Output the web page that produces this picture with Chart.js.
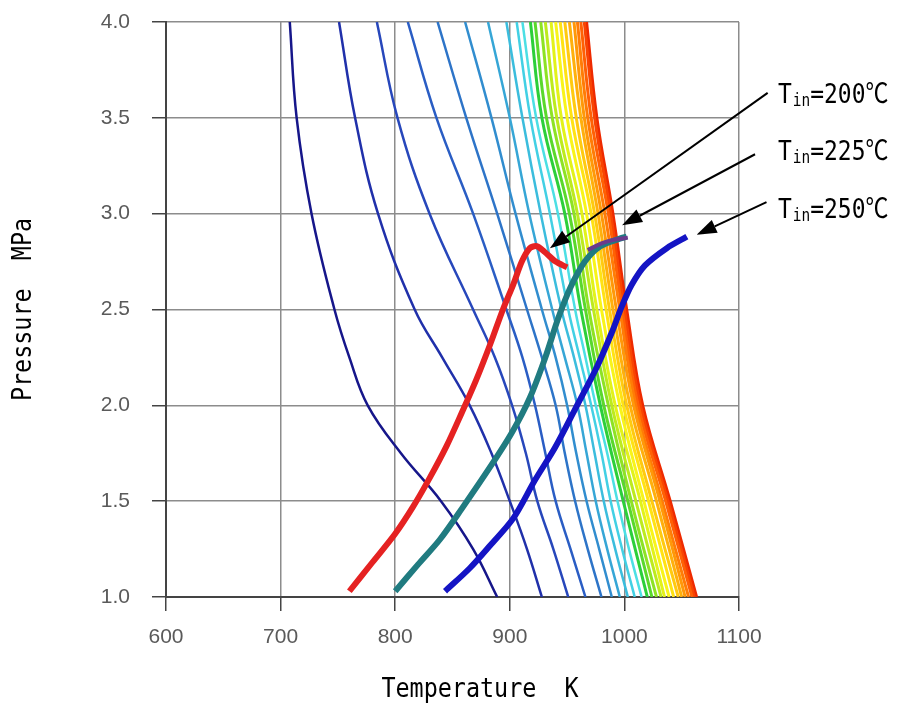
<!DOCTYPE html>
<html>
<head>
<meta charset="utf-8">
<script src="https://cdn.jsdelivr.net/npm/chart.js@4.4.1/dist/chart.umd.min.js"></script>
<style>
  html, body { margin: 0; padding: 0; background: #fff; }
</style>
</head>
<body>
<canvas id="chart" width="898" height="710"></canvas>
<script>
// pressure levels (MPa) at which the blue-cyan contours are sampled
const contourP = [4.0, 3.5, 3.0, 2.5, 2.25, 2.0, 1.75, 1.5, 1.25, 1.0];

// contour temperatures (K) at contourP, blue -> cyan
const contourTemps = [
    [708, 714, 727, 747, 760, 776, 805, 840, 868, 889],
    [751, 765, 785, 817, 841, 865, 884, 900, 915, 928],
    [784, 802, 830, 868, 887, 902, 914, 924, 938, 951],
    [811, 836, 868, 897, 911, 922, 931, 940, 953, 966],
    [837, 862, 889, 915, 928, 940, 948, 957, 968, 980],
    [861, 884, 905, 928, 940, 950, 958, 967, 978, 989],
    [881, 900, 917, 937, 948, 959, 967, 975, 985, 996],
    [897, 911, 927, 945, 956, 966, 974, 982, 992, 1003],
    [906, 918, 935, 951, 961, 971, 980, 988, 998, 1009],
    [911, 923, 942, 957, 966, 975, 985, 994, 1004, 1015]
];
const contourColors = ['#16168a', '#2030aa', '#2747bb', '#2a5dc4', '#2d74c8',
                       '#318dcf', '#36a6d6', '#3bbddd', '#42d0e4', '#4cdfe4'];

// pressure levels for the dense band
const bandP = [4.0, 3.5, 3.0, 2.5, 2.0, 1.5, 1.0];

// dense band of contours, green -> red
const bandTemps = [
    [918, 928, 948, 962, 979,  999, 1020],
    [922, 932, 952, 966, 982, 1003, 1024],
    [927, 937, 956, 969, 986, 1006, 1028],
    [931, 941, 959, 973, 989, 1010, 1032],
    [936, 945, 963, 976, 992, 1014, 1035],
    [940, 950, 967, 980, 996, 1017, 1039],
    [944, 954, 971, 984, 999, 1021, 1043],
    [948, 958, 974, 987, 1002, 1024, 1047],
    [952, 962, 977, 990, 1005, 1028, 1050],
    [956, 965, 980, 993, 1008, 1031, 1053],
    [959, 968, 983, 996, 1010, 1033, 1056],
    [962, 971, 986, 998, 1012, 1036, 1059],
    [965, 974, 988, 1000, 1014, 1038, 1061],
    [967, 976, 990, 1002, 1016, 1040, 1063]
];
const bandColors = ['#2ccf3a', '#5ad82c', '#8ee224', '#bdea1e', '#e2f21a', '#f8f41a', '#ffe214',
                    '#ffca10', '#ffb00c', '#ff9808', '#ff7c06', '#ff6004', '#f84402', '#ee2a00'];

// operating lines for each inlet temperature
const run200T = [760, 780, 800, 815.5, 830, 845, 858, 870.5, 883, 894, 903, 910.5, 917.5, 923.5, 930.5, 940, 950];
const run200P = [1.03, 1.18, 1.33, 1.47, 1.62, 1.79, 1.96, 2.13, 2.32, 2.50, 2.63, 2.75, 2.82, 2.83, 2.80, 2.75, 2.72];
const run225T = [800, 820, 839, 858, 883, 902, 917.5, 931, 942, 952.5, 965.5, 979, 996, 1002];
const run225P = [1.03, 1.17, 1.30, 1.46, 1.68, 1.86, 2.04, 2.25, 2.45, 2.61, 2.75, 2.83, 2.87, 2.88];
const tail225T = [968, 980, 992, 1003];
const tail225P = [2.81, 2.845, 2.865, 2.875];
const run250T = [843.5, 865, 883, 903, 922, 939.5, 957, 976, 989, 998, 1006.5, 1018, 1037, 1054.5];
const run250P = [1.03, 1.15, 1.27, 1.41, 1.61, 1.78, 1.98, 2.20, 2.38, 2.52, 2.63, 2.73, 2.82, 2.88];

const inletLabels = ['200', '225', '250'];

// annotation anchors, in axis units
const noteCfg = {
    labelT : 1134,
    labelP : [3.58, 3.28, 2.98],
    fromT  : [1125, 1114, 1124],
    fromP  : [3.63, 3.31, 3.06],
    toT    : [935, 998, 1063],
    toP    : [2.82, 2.94, 2.89]
};

const line = (xs, ys, color, width, tension, order) => ({
    data       : xs.map((t, i) => ({x: t, y: ys[i]})),
    borderColor: color,
    borderWidth: width,
    showLine   : true,
    pointRadius: 0,
    tension,
    order
});

const datasets = [
    line(run200T, run200P, '#e52222', 6, 0.3, 0),
    line(tail225T, tail225P, '#6a3a8c', 4, 0.3, 0),
    line(run225T, run225P, '#207b80', 6, 0.3, 0),
    line(run250T, run250P, '#1414c4', 6, 0.3, 0)
];
contourTemps.forEach((row, i) => datasets.push(line(row, contourP, contourColors[i], 2.5, 0.4, 2)));
bandTemps.forEach((row, i) => datasets.push(line(row, bandP, bandColors[i], 3, 0.4, 1)));

const MONO = '"DejaVu Sans Mono", "Noto Sans CJK JP", monospace';

function squeezedText(ctx, str, x, y, sx) {
    ctx.save();
    ctx.translate(x, y);
    ctx.scale(sx, 1);
    ctx.fillText(str, 0, 0);
    ctx.restore();
    return ctx.measureText(str).width * sx;
}

function arrow(ctx, x0, y0, x1, y1) {
    const a   = Math.atan2(y1 - y0, x1 - x0);
    const len = 20, half = 7;
    const bx  = x1 - len * Math.cos(a), by = y1 - len * Math.sin(a);
    ctx.beginPath();
    ctx.moveTo(x0, y0);
    ctx.lineTo(bx, by);
    ctx.stroke();
    ctx.beginPath();
    ctx.moveTo(x1, y1);
    ctx.lineTo(bx + half * Math.sin(a), by - half * Math.cos(a));
    ctx.lineTo(bx - half * Math.sin(a), by + half * Math.cos(a));
    ctx.closePath();
    ctx.fill();
}

const notes = {
    id: 'notes',
    afterDraw(chart) {
        const {ctx, scales: {x, y}, chartArea: area} = chart;
        ctx.save();
        ctx.fillStyle   = '#000';
        ctx.strokeStyle = '#000';
        ctx.lineWidth   = 2;

        inletLabels.forEach((name, i) => {
            arrow(ctx, x.getPixelForValue(noteCfg.fromT[i]), y.getPixelForValue(noteCfg.fromP[i]),
                       x.getPixelForValue(noteCfg.toT[i]),   y.getPixelForValue(noteCfg.toP[i]));

            let px   = x.getPixelForValue(noteCfg.labelT);
            const py = y.getPixelForValue(noteCfg.labelP[i]);
            ctx.textAlign    = 'left';
            ctx.textBaseline = 'alphabetic';
            ctx.font = '27px ' + MONO;
            px += squeezedText(ctx, 'T', px, py, 0.85) + 1;
            ctx.font = '17px ' + MONO;
            px += squeezedText(ctx, 'in', px, py + 3, 0.85);
            ctx.font = '27px ' + MONO;
            squeezedText(ctx, '=' + name + '℃', px, py, 0.85);
        });

        // axis titles
        ctx.fillStyle    = '#000';
        ctx.font         = '26px ' + MONO;
        ctx.textAlign    = 'center';
        ctx.textBaseline = 'middle';
        squeezedText(ctx, 'Temperature  K', 480, 690, 0.9);

        ctx.save();
        ctx.translate(24, (area.top + area.bottom) / 2);
        ctx.rotate(-Math.PI / 2);
        squeezedText(ctx, 'Pressure  MPa', 0, 0, 0.9);
        ctx.restore();

        ctx.restore();
    }
};

const tickFont = {family: '"Liberation Sans", Arial, sans-serif', size: 21};

new Chart(document.getElementById('chart'), {
    type: 'scatter',
    data: {datasets},
    options: {
        responsive: false,
        animation : false,
        layout    : {padding: {top: 22, right: 159, left: 0, bottom: 0}},
        plugins   : {legend: {display: false}, tooltip: {enabled: false}},
        scales    : {
            x: {
                type : 'linear',
                min  : 600,
                max  : 1100,
                ticks: {stepSize: 100, padding: 14, color: '#5a5a5a', font: tickFont,
                        callback: v => String(v)},
                grid : {color: '#8c8c8c', lineWidth: 1.5, tickLength: 14, tickColor: '#444'},
                border: {color: '#444', width: 2},
                afterFit(s) { s.height = 113; }
            },
            y: {
                type : 'linear',
                min  : 1,
                max  : 4,
                ticks: {stepSize: 0.5, padding: 22, color: '#5a5a5a', font: tickFont,
                        callback: v => v.toFixed(1)},
                grid : {color: '#8c8c8c', lineWidth: 1.5, tickLength: 14, tickColor: '#444'},
                border: {color: '#444', width: 2},
                afterFit(s) {
                    s.width = 166;
                    // tick padding would otherwise push the plot top down
                    s.paddingTop = 12;
                    s.paddingBottom = 12;
                }
            }
        }
    },
    plugins: [notes]
});
</script>
</body>
</html>
